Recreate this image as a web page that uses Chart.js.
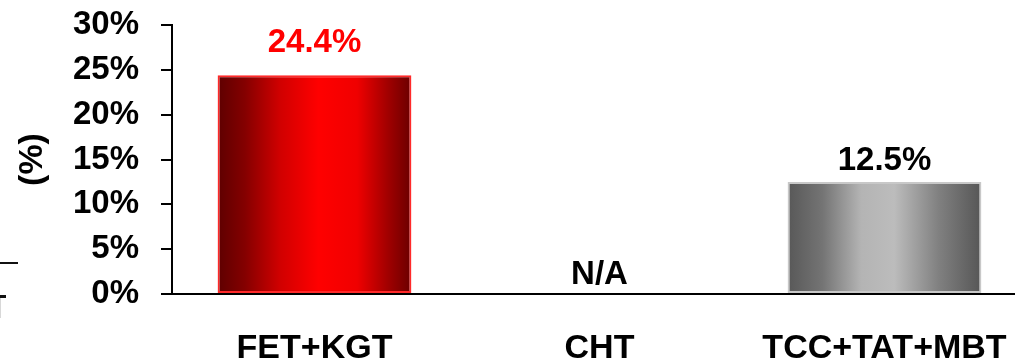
<!DOCTYPE html>
<html>
<head>
<meta charset="utf-8">
<script src="https://cdn.jsdelivr.net/npm/chart.js@4"></script>
<style>
  html, body { margin: 0; padding: 0; overflow: hidden; background: #ffffff; }
  #wrap { position: relative; width: 1027px; height: 359px; }
</style>
</head>
<body>
<div id="wrap"><canvas id="c"></canvas></div>
<script>
// Categories, values and the text printed over each bar
const categories = ['FET+KGT', 'CHT', 'TCC+TAT+MBT'];
const rates = [24.4, null, 12.5];
const valueLabels = ['24.4%', 'N/A', '12.5%'];
const yTicks = [0, 5, 10, 15, 20, 25, 30];

const FONT = '"Liberation Sans", Arial, Helvetica, sans-serif';

// Horizontal cylinder-like shading for each bar
const shades = [
  { stops: [[0, '#5e0000'], [0.14, '#840000'], [0.32, '#d00000'], [0.52, '#ff0000'], [0.72, '#f00000'], [0.88, '#a00000'], [1, '#6a0000']], border: '#ff2a2a' },
  { stops: [[0, '#777777'], [0.5, '#bbbbbb'], [1, '#777777']], border: '#cccccc' },
  { stops: [[0, '#585858'], [0.18, '#747474'], [0.38, '#b4b4b4'], [0.55, '#bcbcbc'], [0.78, '#808080'], [1, '#565656']], border: '#c8c8c8' }
];
const labelColors = ['#ff0000', '#000000', '#000000'];
const labelLift = [32, 19, 21];

function barFill(ctx) {
  const chart = ctx.chart;
  const i = ctx.dataIndex;
  const xs = chart.scales.x;
  if (!chart.chartArea || !xs || i === undefined) return '#888888';
  const cx = xs.getPixelForValue(i);
  const w = (xs.width / categories.length) * 0.68;
  const g = chart.ctx.createLinearGradient(cx - w / 2, 0, cx + w / 2, 0);
  shades[i].stops.forEach(([p, c]) => g.addColorStop(p, c));
  return g;
}

const valueLabelPlugin = {
  id: 'valueLabels',
  afterDatasetsDraw(chart) {
    const { ctx, scales } = chart;
    const meta = chart.getDatasetMeta(0);
    ctx.save();
    ctx.font = 'bold 33px ' + FONT;
    ctx.textAlign = 'center';
    ctx.textBaseline = 'middle';
    rates.forEach((v, i) => {
      const x = scales.x.getPixelForValue(i);
      const top = v === null ? scales.y.getPixelForValue(0) : meta.data[i].y;
      ctx.fillStyle = labelColors[i];
      ctx.fillText(valueLabels[i], x, top - labelLift[i]);
    });
    ctx.restore();
  }
};

// Short rule fragments at the left edge of the canvas
const edgeRules = {
  id: 'edgeRules',
  afterDraw(chart) {
    const ctx = chart.ctx;
    ctx.save();
    ctx.fillStyle = '#111111';
    ctx.fillRect(0, 262, 18, 2);
    ctx.fillRect(0, 295, 6, 3);
    ctx.fillStyle = '#d8d8d8';
    ctx.fillRect(0, 298, 1, 20);
    ctx.restore();
  }
};

new Chart(document.getElementById('c'), {
  type: 'bar',
  data: {
    labels: categories,
    datasets: [{
      data: rates,
      backgroundColor: barFill,
      borderColor: shades.map(s => s.border),
      borderWidth: 2,
      borderSkipped: false,
      barPercentage: 0.68,
      categoryPercentage: 1.0
    }]
  },
  options: {
    responsive: true,
    maintainAspectRatio: false,
    animation: false,
    layout: { padding: { top: 25, right: 0, bottom: 0, left: 0 } },
    plugins: { legend: { display: false }, tooltip: { enabled: false } },
    scales: {
      x: {
        grid: { display: false, drawTicks: false },
        border: { display: true, color: '#000000', width: 2 },
        ticks: {
          color: '#000000',
          padding: 34,
          autoSkip: false,
          font: { family: FONT, size: 34, weight: 'bold' },
          maxRotation: 0
        },
        afterFit(s) { s.height = 65; s.paddingLeft = 0; s.paddingRight = 0; }
      },
      y: {
        min: 0,
        max: 30,
        afterBuildTicks(s) { s.ticks = yTicks.map(v => ({ value: v })); },
        grid: { drawOnChartArea: false, drawTicks: true, tickLength: 11, color: '#000000', lineWidth: 2 },
        border: { display: true, color: '#000000', width: 2 },
        ticks: {
          color: '#000000',
          padding: 22,
          autoSkip: false,
          font: { family: FONT, size: 33, weight: 'bold' },
          callback: v => v + '%'
        },
        title: {
          display: true,
          text: '(%)',
          color: '#000000',
          font: { family: FONT, size: 34, weight: 'bold' },
          padding: { top: 12, bottom: 0 }
        },
        afterFit(s) { s.width = 172; s.paddingTop = 0; s.paddingBottom = 0; }
      }
    }
  },
  plugins: [valueLabelPlugin, edgeRules]
});
</script>
</body>
</html>
